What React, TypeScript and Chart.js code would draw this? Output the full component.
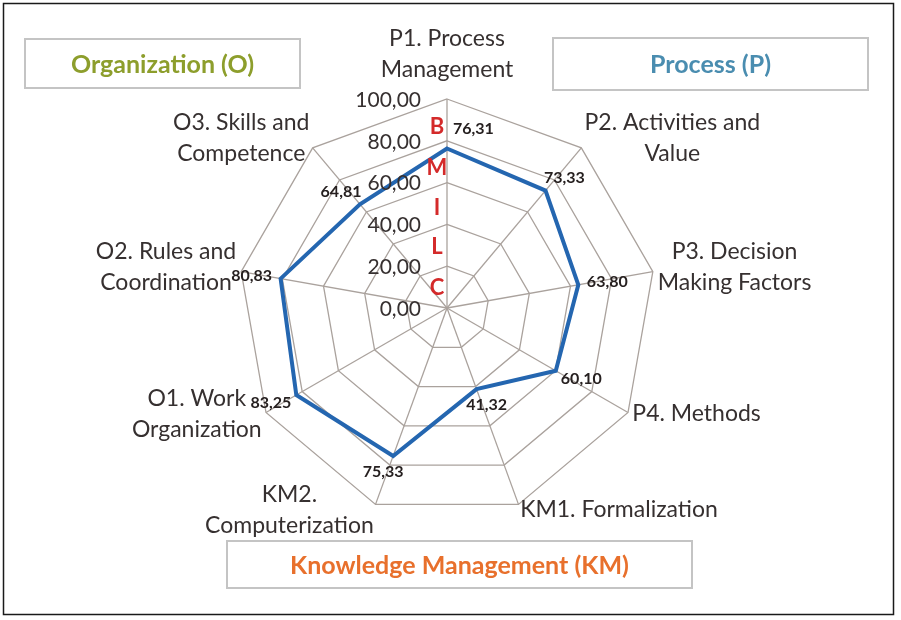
import { useEffect, useRef } from "react";
import { Chart, registerables } from "chart.js";

Chart.register(...registerables);

// ---------- data ----------
const categories: string[][] = [
  ["P1. Process", "Management"],
  ["P2. Activities and", "Value"],
  ["P3. Decision", "Making Factors"],
  ["P4. Methods"],
  ["KM1. Formalization"],
  ["KM2.", "Computerization"],
  ["O1. Work", "Organization"],
  ["O2. Rules and", "Coordination"],
  ["O3. Skills and", "Competence"],
];
const scores = [76.31, 73.33, 63.8, 60.1, 41.32, 75.33, 83.25, 80.83, 64.81];
const tickValues = [0, 20, 40, 60, 80, 100];
const levelLetters = ["C", "L", "I", "M", "B"];
const levelLetterValues = [9.5, 29, 48, 67, 86.5];
const groupTitles = ["Organization (O)", "Process (P)", "Knowledge Management (KM)"];

// ---------- styles ----------
const FONT = "Lato, 'Open Sans', sans-serif";
const LINE_COLOR = "#2466b0";
const GRID_COLOR = "#aaa29d";
const TEXT_COLOR = "#363030";
const groupStyles = [
  { box: [25, 39, 275, 49], color: "#8d9e2c" },
  { box: [553, 38, 315, 52], color: "#4a8db0" },
  { box: [227, 541, 465, 47], color: "#e8702c" },
];

const fmt = (v: number) => v.toFixed(2).replace(".", ",");

const overlayPlugin = {
  id: "overlay",
  afterDraw(chart: any) {
    const { ctx } = chart;
    const scale = chart.scales.r;
    ctx.save();

    // outer frame
    ctx.strokeStyle = "#1a1a1a";
    ctx.lineWidth = 1.5;
    ctx.strokeRect(3.5, 3.5, 890, 611);

    // group boxes
    groupTitles.forEach((t, i) => {
      const [x, y, w, h] = groupStyles[i].box;
      ctx.strokeStyle = "#c4c4c4";
      ctx.lineWidth = 2;
      ctx.strokeRect(x, y, w, h);
      ctx.fillStyle = groupStyles[i].color;
      ctx.font = `bold 25px ${FONT}`;
      ctx.textAlign = "center";
      ctx.textBaseline = "middle";
      ctx.fillText(t, x + w / 2, y + h / 2 + 1);
    });

    // tick labels
    ctx.font = `21px ${FONT}`;
    ctx.fillStyle = TEXT_COLOR;
    ctx.textAlign = "right";
    ctx.textBaseline = "middle";
    tickValues.forEach((v) => {
      const p = scale.getPointPositionForValue(0, v);
      ctx.fillText(fmt(v), p.x - 26, p.y + 1);
    });

    // level letters
    ctx.font = `bold 22px ${FONT}`;
    ctx.fillStyle = "#d42a2a";
    ctx.textAlign = "center";
    levelLetters.forEach((l, i) => {
      const p = scale.getPointPositionForValue(0, levelLetterValues[i]);
      ctx.fillText(l, p.x - 10, p.y);
    });

    // category labels
    ctx.font = `23px ${FONT}`;
    ctx.fillStyle = TEXT_COLOR;
    const lineH = 31;
    categories.forEach((lines, i) => {
      const a = scale.getIndexAngle(i);
      const s = Math.sin(a);
      const c = Math.cos(a);
      const p = scale.getPointPosition(i, scale.drawingArea + 5);
      const w = Math.max(...lines.map((l) => ctx.measureText(l).width));
      const h = lines.length * lineH;
      let cx: number, cy: number;
      if (Math.abs(s) < 0.05) {
        cx = p.x;
        cy = p.y - 9 - h / 2;
      } else if (s > 0) {
        cx = p.x + w / 2;
        cy = p.y - 3 - 4 * c;
      } else {
        cx = p.x - w / 2;
        cy = p.y - 3 - 4 * c;
      }
      ctx.textAlign = "center";
      lines.forEach((l, j) => {
        ctx.fillText(l, cx, cy + (j - (lines.length - 1) / 2) * lineH);
      });
    });

    // data labels
    ctx.font = `bold 16px ${FONT}`;
    ctx.fillStyle = "#262020";
    scores.forEach((v, i) => {
      const a = scale.getIndexAngle(i);
      const s = Math.sin(a);
      const c = Math.cos(a);
      const pt = scale.getPointPositionForValue(i, v);
      const txt = fmt(v);
      const w = ctx.measureText(txt).width;
      const h = 15;
      const d = 9;
      let cx: number, cy: number;
      if (Math.abs(s) < 0.05) {
        cx = pt.x + w / 2 + 6;
        cy = pt.y - 20;
      } else {
        cx = pt.x + s * (d + w / 2);
        cy = pt.y - c * (d + h / 2);
      }
      ctx.fillText(txt, cx, cy);
    });

    ctx.restore();
  },
};

export default function App() {
  const ref = useRef<HTMLCanvasElement | null>(null);
  useEffect(() => {
    if (!ref.current) return;
    const chart = new Chart(ref.current, {
      type: "radar",
      data: {
        labels: categories,
        datasets: [
          {
            data: scores,
            borderColor: LINE_COLOR,
            borderWidth: 4,
            borderJoinStyle: "miter",
            fill: false,
            pointRadius: 0,
            pointHoverRadius: 0,
            tension: 0,
          },
        ],
      },
      options: {
        responsive: false,
        animation: false,
        layout: { padding: { left: 238, right: 245, top: 99, bottom: 103 } },
        plugins: { legend: { display: false }, tooltip: { enabled: false } },
        scales: {
          r: {
            min: 0,
            max: 100,
            ticks: { stepSize: 20, display: false },
            grid: { color: GRID_COLOR, lineWidth: 1.3 },
            angleLines: { color: GRID_COLOR, lineWidth: 1.3 },
            pointLabels: { display: false },
          },
        },
      },
      plugins: [overlayPlugin],
    });
    return () => chart.destroy();
  }, []);
  return (
    <div style={{ position: "absolute", left: 0, top: 0, width: 901, height: 620, background: "#fff" }}>
      <canvas ref={ref} width={901} height={620} />
    </div>
  );
}
